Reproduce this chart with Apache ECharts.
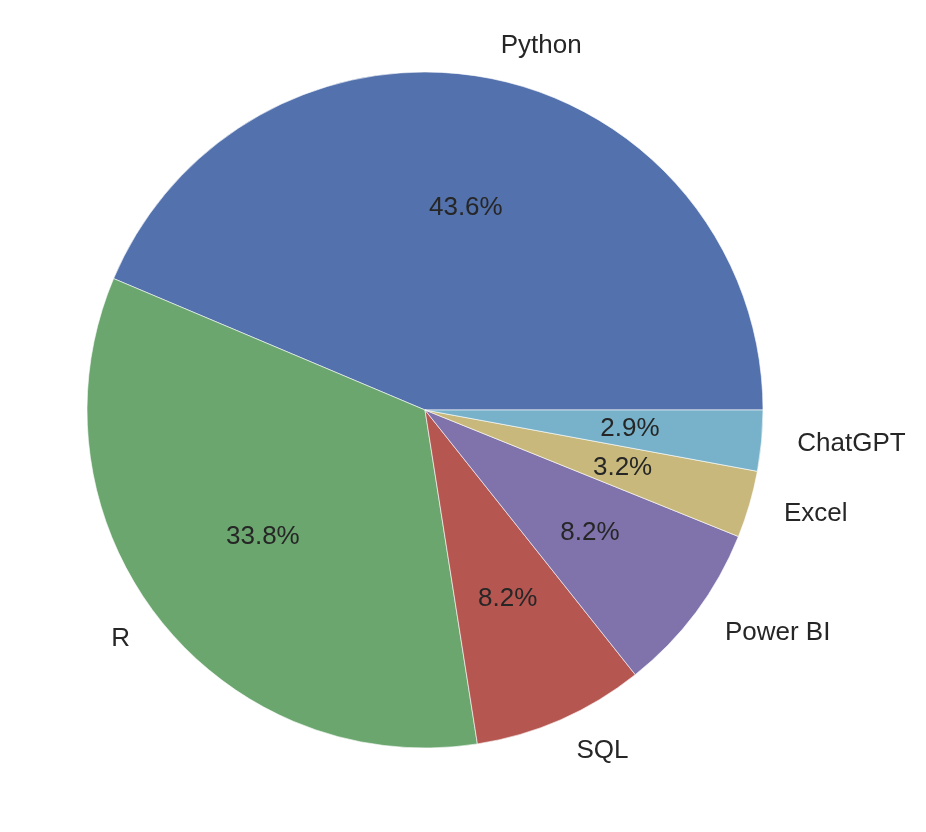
<!DOCTYPE html>
<html>
<head>
<meta charset="utf-8">
<script src="https://cdn.jsdelivr.net/npm/echarts@6/dist/echarts.min.js"></script>
<style>
  html, body { margin: 0; padding: 0; background: #fff; }
  #chart { width: 926px; height: 832px; }
</style>
</head>
<body>
<div id="chart"></div>
<script>
// shares (percent)
const tools = ['Python', 'R', 'SQL', 'Power BI', 'Excel', 'ChatGPT'];
const shares = [43.6, 33.8, 8.2, 8.2, 3.2, 2.9];
const colors = ['#5371ac', '#6aa66e', '#b55651', '#8073ac', '#c8b87b', '#77b2ca'];

const R = 338;
const center = [425, 410];
const font = 'Liberation Sans, Arial, sans-serif';

const chart = echarts.init(document.getElementById('chart'));

const pieData = tools.map((name, i) => ({
  name: name,
  value: shares[i],
  itemStyle: { color: colors[i] }
}));

chart.setOption({
  backgroundColor: '#fff',
  animation: false,
  series: [
    { // wedges + outer names at 1.1r
      type: 'pie',
      center: center,
      radius: [0, R],
      startAngle: 0,
      clockwise: false,
      avoidLabelOverlap: false,
      silent: true,
      itemStyle: { borderColor: '#fff', borderWidth: 0.6 },
      label: {
        show: true,
        position: 'outside',
        distanceToLabelLine: 2,
        color: '#262626',
        fontFamily: font,
        fontSize: 26,
        verticalAlign: 'middle'
      },
      labelLine: { show: false, length: R * 0.1, length2: 0 },
      data: pieData
    },
    { // percentages at 0.6r
      type: 'pie',
      center: center,
      radius: [R * 0.2, R],
      startAngle: 0,
      clockwise: false,
      silent: true,
      itemStyle: { color: 'transparent', borderWidth: 0 },
      label: {
        show: true,
        position: 'inside',
        color: '#262626',
        fontFamily: font,
        fontSize: 26,
        formatter: p => p.value.toFixed(1) + '%'
      },
      labelLine: { show: false },
      data: tools.map((name, i) => ({ name: name, value: shares[i] }))
    }
  ]
});
</script>
</body>
</html>
